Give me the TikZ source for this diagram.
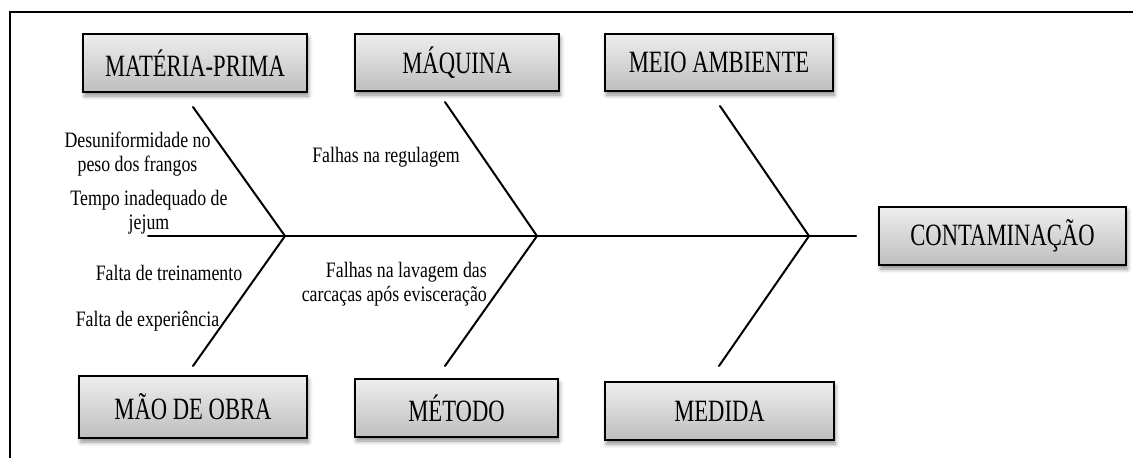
\documentclass[tikz,border=0pt]{standalone}
\usepackage{fontspec}
\setmainfont{Liberation Serif}
\newfontfamily\boxfont[FakeStretch=0.73]{Liberation Serif}
\newfontfamily\notefont[FakeStretch=0.81]{Liberation Serif}
\usetikzlibrary{shadows.blur}
\definecolor{boxtop}{RGB}{238,238,238}
\definecolor{boxbot}{RGB}{190,190,190}
\tikzset{
  cause/.style={draw=black, line width=1.8pt, top color=boxtop, bottom color=boxbot,
    inner sep=0pt, minimum height=58pt, font=\boxfont\fontsize{31}{31}\selectfont,
    blur shadow={shadow xshift=1.5pt, shadow yshift=-4pt, shadow blur radius=4pt, shadow opacity=45}},
  note/.style={inner sep=0pt, font=\notefont\fontsize{22}{24}\selectfont},
  bone/.style={line width=2pt, line cap=round},
  frame/.style={line width=1.5pt}
}
\begin{document}
\begin{tikzpicture}[x=1pt, y=-1pt]
\useasboundingbox (0,0) rectangle (1133,458);
\draw[frame] (1133,12) -- (10,12) -- (10,458);
% cause boxes
\node[cause, minimum width=224pt] (mp) at (195,63) {MATÉRIA-PRIMA};
\node[cause, minimum width=204pt, minimum height=57pt] (maq) at (457,62.5) {MÁQUINA};
\node[cause, minimum width=228pt, minimum height=57pt] (mei) at (719,62.5) {MEIO AMBIENTE};
\node[cause, minimum width=247pt] (con) at (1002.5,236) {CONTAMINAÇÃO};
\node[cause, minimum width=228pt, minimum height=62pt] (mao) at (193,407) {MÃO DE OBRA};
\node[cause, minimum width=203pt] (met) at (456.5,408) {MÉTODO};
\node[cause, minimum width=229pt] (med) at (719.5,411) {MEDIDA};
% skeleton
\coordinate (s0) at (148,236);
\coordinate (s1) at (856,236);
\coordinate (v1) at (285,236);
\coordinate (v2) at (537,236);
\coordinate (v3) at (809,236);
\coordinate (u1) at (193,107);
\coordinate (u2) at (445,102);
\coordinate (u3) at (720,106);
\coordinate (l1) at (193,366);
\coordinate (l2) at (445,366);
\coordinate (l3) at (719,366);
\draw[bone] (s0) -- (s1);
\draw[bone] (u1) -- (v1) -- (l1);
\draw[bone] (u2) -- (v2) -- (l2);
\draw[bone] (u3) -- (v3) -- (l3);
% notes
\node[note, align=center, anchor=base] (n1) at (137.5,171.5) {Desuniformidade no\\peso dos frangos};
\node[note, align=center, anchor=base] (n2) at (149,229) {Tempo inadequado de\\jejum};
\node[note, anchor=base] (n3) at (386,162) {Falhas na regulagem};
\node[note, anchor=base] (n4) at (169,280) {Falta de treinamento};
\node[note, anchor=base] (n5) at (147.5,326.5) {Falta de experiência};
\node[note, align=right, anchor=base east] (n6) at (487,301) {Falhas na lavagem das\\carcaças após evisceração};
\end{tikzpicture}
\end{document}
